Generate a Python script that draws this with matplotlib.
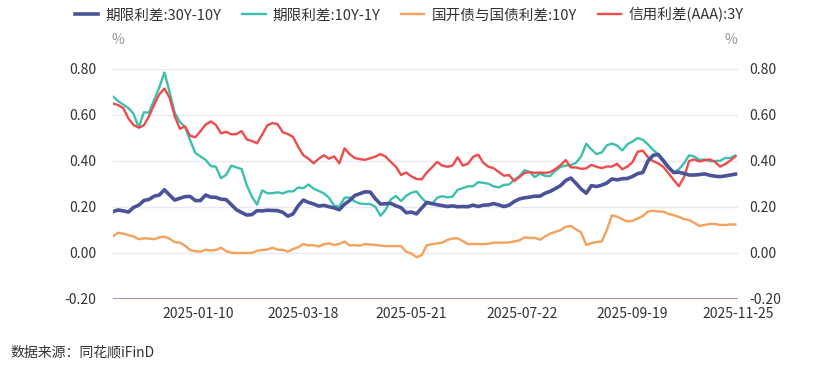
import numpy as np
import pandas as pd
import matplotlib
matplotlib.use('Agg')
import matplotlib.pyplot as plt

plt.rcParams['font.family'] = ['Noto Sans CJK SC', 'DejaVu Sans']

# trading calendar (exchange holidays removed)
holidays = ['2025-01-01', '2025-01-28', '2025-01-29', '2025-01-30', '2025-01-31',
            '2025-02-03', '2025-02-04', '2025-04-04', '2025-05-01', '2025-05-02',
            '2025-05-05', '2025-06-02', '2025-10-01', '2025-10-02', '2025-10-03',
            '2025-10-06', '2025-10-07', '2025-10-08']
days = pd.bdate_range('2024-11-25', '2025-11-25')
days = days[~days.isin(pd.to_datetime(holidays))]
sample_days = days[::2]

tick_labels = ['2025-01-10', '2025-03-18', '2025-05-21', '2025-07-22', '2025-09-19', '2025-11-25']

series_names = ['期限利差:30Y-10Y', '期限利差:10Y-1Y', '国开债与国债利差:10Y', '信用利差(AAA):3Y']

spread_30y_10y = [
    0.18, 0.187, 0.183, 0.178, 0.198, 0.208, 0.228, 0.233, 0.247, 0.252, 0.275, 0.252, 0.23, 0.238, 0.245, 0.246, 0.228, 0.228, 0.252, 0.243, 0.242,
    0.234, 0.232, 0.21, 0.188, 0.176, 0.165, 0.167, 0.184, 0.183, 0.186, 0.185, 0.184, 0.177, 0.16, 0.17, 0.205, 0.23, 0.22, 0.213,
    0.204, 0.207, 0.201, 0.196, 0.188, 0.212, 0.228, 0.25, 0.258, 0.266, 0.265, 0.236, 0.213, 0.214, 0.216, 0.205, 0.197, 0.175, 0.178, 0.17,
    0.195, 0.22, 0.215, 0.21, 0.206, 0.202, 0.205, 0.201, 0.202, 0.201, 0.208, 0.202, 0.208, 0.209, 0.215, 0.209, 0.202, 0.208, 0.224, 0.235,
    0.24, 0.243, 0.247, 0.247, 0.26, 0.268, 0.28, 0.293, 0.315, 0.326, 0.303, 0.278, 0.26, 0.293, 0.289, 0.295, 0.304, 0.322, 0.318, 0.323,
    0.324, 0.333, 0.345, 0.35, 0.4, 0.425, 0.428, 0.4, 0.372, 0.35, 0.351, 0.346, 0.339, 0.339, 0.341, 0.344, 0.338, 0.334, 0.332, 0.335, 0.339, 0.343]

spread_10y_1y = [
    0.68, 0.66, 0.645, 0.63, 0.605, 0.545, 0.612, 0.61, 0.665, 0.72, 0.785, 0.70, 0.61, 0.57, 0.548, 0.49, 0.435, 0.42, 0.405, 0.378, 0.375,
    0.325, 0.34, 0.38, 0.372, 0.365, 0.295, 0.245, 0.21, 0.272, 0.26, 0.26, 0.264, 0.259, 0.268, 0.268, 0.285, 0.282, 0.298, 0.28,
    0.27, 0.259, 0.24, 0.205, 0.202, 0.24, 0.242, 0.224, 0.215, 0.213, 0.213, 0.201, 0.162, 0.188, 0.233, 0.248, 0.226, 0.249, 0.262, 0.268,
    0.24, 0.217, 0.212, 0.24, 0.247, 0.242, 0.245, 0.275, 0.282, 0.29, 0.29, 0.308, 0.305, 0.301, 0.29, 0.285, 0.296, 0.298, 0.318, 0.334,
    0.36, 0.352, 0.33, 0.345, 0.335, 0.335, 0.358, 0.374, 0.38, 0.382, 0.392, 0.42, 0.475, 0.45, 0.43, 0.437, 0.468, 0.476, 0.467, 0.446,
    0.473, 0.485, 0.5, 0.492, 0.472, 0.448, 0.43, 0.407, 0.376, 0.35, 0.364, 0.39, 0.425, 0.42, 0.405, 0.407, 0.399, 0.4, 0.401, 0.413, 0.413, 0.424]

cdb_gov_10y = [
    0.072, 0.088, 0.084, 0.078, 0.072, 0.06, 0.064, 0.063, 0.06, 0.068, 0.071, 0.062, 0.047, 0.045, 0.032, 0.012, 0.008, 0.006, 0.014, 0.011, 0.013,
    0.023, 0.008, 0.001, 0.0, 0.0, 0.0, 0.0, 0.01, 0.013, 0.015, 0.023, 0.014, 0.014, 0.006, 0.017, 0.025, 0.039, 0.033, 0.034,
    0.028, 0.038, 0.042, 0.035, 0.04, 0.05, 0.033, 0.034, 0.032, 0.039, 0.037, 0.035, 0.032, 0.03, 0.03, 0.03, 0.03, 0.005, -0.002, -0.018,
    -0.01, 0.034, 0.038, 0.042, 0.045, 0.057, 0.063, 0.064, 0.052, 0.039, 0.039, 0.039, 0.039, 0.04, 0.045, 0.045, 0.045, 0.046, 0.05, 0.055,
    0.068, 0.065, 0.066, 0.058, 0.072, 0.084, 0.092, 0.099, 0.114, 0.118, 0.103, 0.09, 0.035, 0.043, 0.048, 0.05, 0.1, 0.164, 0.158, 0.147,
    0.137, 0.14, 0.15, 0.161, 0.18, 0.184, 0.18, 0.18, 0.17, 0.164, 0.157, 0.147, 0.143, 0.131, 0.117, 0.122, 0.126, 0.126, 0.122, 0.122, 0.124, 0.124]

credit_aaa_3y = [
    0.65, 0.643, 0.63, 0.585, 0.556, 0.545, 0.555, 0.595, 0.645, 0.69, 0.715, 0.675, 0.595, 0.54, 0.55, 0.51, 0.503, 0.53, 0.558, 0.572, 0.557,
    0.52, 0.527, 0.516, 0.517, 0.53, 0.494, 0.487, 0.477, 0.515, 0.555, 0.565, 0.56, 0.525, 0.517, 0.505, 0.462, 0.425, 0.41, 0.39,
    0.41, 0.425, 0.41, 0.42, 0.39, 0.455, 0.43, 0.413, 0.408, 0.405, 0.412, 0.419, 0.43, 0.419, 0.396, 0.375, 0.339, 0.35, 0.333, 0.322,
    0.32, 0.35, 0.372, 0.396, 0.38, 0.375, 0.38, 0.416, 0.38, 0.388, 0.418, 0.428, 0.392, 0.375, 0.369, 0.352, 0.336, 0.339, 0.313, 0.33,
    0.348, 0.352, 0.348, 0.35, 0.348, 0.352, 0.365, 0.382, 0.404, 0.372, 0.372, 0.366, 0.368, 0.383, 0.375, 0.369, 0.376, 0.376, 0.388, 0.364,
    0.376, 0.395, 0.44, 0.445, 0.416, 0.399, 0.39, 0.374, 0.346, 0.318, 0.29, 0.33, 0.4, 0.407, 0.398, 0.403, 0.407, 0.397, 0.376, 0.386, 0.402, 0.42]

colors = ['#4b5398', '#3cc0ae', '#f5a15c', '#ee4b4b']
widths = [2.6, 1.7, 1.7, 1.7]
yticks = [-0.2, 0.0, 0.2, 0.4, 0.6, 0.8]

# category axis: position of each trading day
x = days.get_indexer(sample_days)
tick_pos = days.get_indexer(pd.to_datetime(tick_labels))

fig = plt.figure(figsize=(8.3, 3.69), dpi=100)
ax = fig.add_axes([113 / 830, 1 - 299 / 369, 625 / 830, 230 / 369])

for yv in yticks[1:]:
    ax.axhline(yv, color='#e9e9f2', lw=1, zorder=0)
ax.axhline(-0.2, color='#7a84b5', lw=1.2, zorder=1)

data = [spread_30y_10y, spread_10y_1y, cdb_gov_10y, credit_aaa_3y]
order = [2, 1, 3, 0]
lines = {}
for i in order:
    ln, = ax.plot(x, data[i], color=colors[i], lw=widths[i], label=series_names[i],
                  solid_joinstyle='round', zorder=3)
    lines[i] = ln

ax.set_xlim(0, len(days) - 1)
ax.set_ylim(-0.2, 0.8)
ax.set_yticks(yticks)
ax.set_yticklabels(['%.2f' % v for v in yticks])
ax.set_xticks(tick_pos)
ax.set_xticklabels(tick_labels)
ax.tick_params(length=0, labelsize=10, colors='#333333')
ax.tick_params(axis='y', pad=12)
ax.tick_params(axis='x', pad=6)
for s in ax.spines.values():
    s.set_visible(False)

ax2 = ax.twinx()
ax2.set_ylim(-0.2, 0.8)
ax2.set_yticks(yticks)
ax2.set_yticklabels(['%.2f' % v for v in yticks])
ax2.tick_params(length=0, labelsize=10, colors='#333333', pad=8)
for s in ax2.spines.values():
    s.set_visible(False)

fig.text(118 / 830, 1 - 40 / 369, '%', fontsize=10, color='#999999', ha='center', va='center')
fig.text(731 / 830, 1 - 40 / 369, '%', fontsize=10, color='#999999', ha='center', va='center')

fig.legend([lines[i] for i in range(4)], series_names, loc='center', ncol=4,
           bbox_to_anchor=(0.493, 1 - 15 / 369), frameon=False, fontsize=10.5,
           handlelength=1.6, handletextpad=0.5, columnspacing=1.4,
           labelcolor='#333333')

fig.text(10 / 830, 1 - 353 / 369, '数据来源：同花顺iFinD', fontsize=10, color='#333333',
         ha='left', va='center')

fig.savefig('out.png', dpi=100)
